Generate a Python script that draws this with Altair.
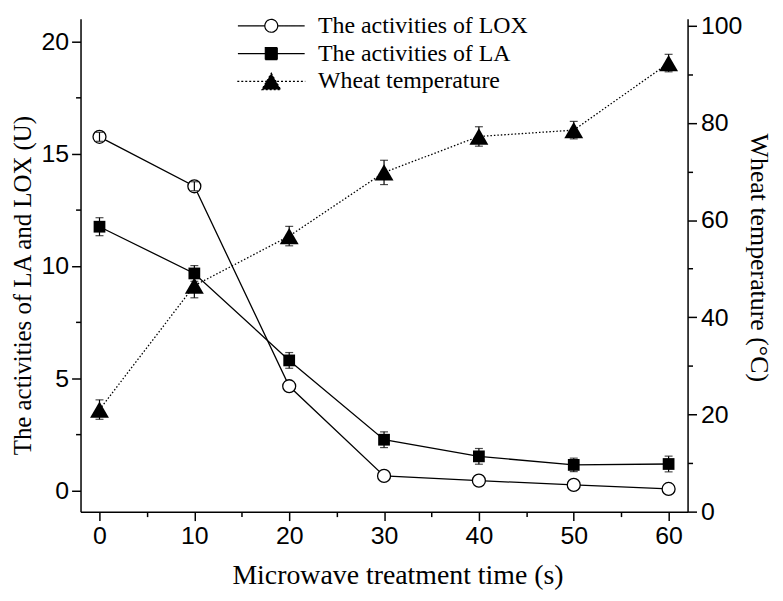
import altair as alt
import pandas as pd

# ---------------- data ----------------
time_s = [0, 10, 20, 30, 40, 50, 60]
lox_activity = [15.75, 13.55, 4.65, 0.66, 0.45, 0.26, 0.08]
lox_error = [0.2, 0.2, 0.0, 0.0, 0.0, 0.0, 0.0]
la_activity = [11.75, 9.67, 5.8, 2.27, 1.53, 1.15, 1.19]
la_error = [0.4, 0.35, 0.35, 0.35, 0.35, 0.3, 0.35]
wheat_temp = [21.0, 46.5, 56.7, 69.8, 77.2, 78.5, 92.3]
temp_error = [2.0, 2.5, 2.0, 2.5, 2.0, 1.8, 1.8]

series_names = ["The activities of LOX", "The activities of LA", "Wheat temperature"]
x_ticks = [0, 10, 20, 30, 40, 50, 60]
x_minor = [5, 15, 25, 35, 45, 55]
left_ticks = [0, 5, 10, 15, 20]
left_minor = [2.5, 7.5, 12.5, 17.5]
right_ticks = [0, 20, 40, 60, 80, 100]
right_minor = [10, 30, 50, 70, 90]

# ---------------- tables ----------------
def make_df(vals, errs, name):
    d = pd.DataFrame({"time": time_s, "value": vals, "err": errs, "series": name})
    d["lo"] = d["value"] - d["err"]
    d["hi"] = d["value"] + d["err"]
    return d

lox_df = make_df(lox_activity, lox_error, series_names[0])
la_df = make_df(la_activity, la_error, series_names[1])
temp_df = make_df(wheat_temp, temp_error, series_names[2])
left_df = pd.concat([lox_df, la_df], ignore_index=True)

def caps(d):
    d = d[d["err"] > 0]
    return pd.concat([d.assign(cap=d["lo"]), d.assign(cap=d["hi"])], ignore_index=True)

left_caps = caps(left_df)
temp_caps = caps(temp_df)
left_err_df = left_df[left_df["err"] > 0]
legend_df = pd.DataFrame({"series": series_names})

# ---------------- styles ----------------
SANS = "Liberation Sans"
SERIF = "Liberation Serif"
TICK_FS = 25

x_scale = alt.Scale(domain=[-2, 62], nice=False, zero=False)
left_scale = alt.Scale(domain=[-0.93, 21], nice=False, zero=False)
right_scale = alt.Scale(domain=[0, 101.4], nice=False, zero=False)

common_axis = dict(
    grid=False, domainColor="black", domainWidth=1.5, tickColor="black", tickWidth=1.5,
    labelColor="black", labelFont=SANS, labelFontSize=TICK_FS, labelFlush=False,
    labelOverlap=False, titleColor="black", titleFont=SERIF, titleFontWeight="normal",
)

x_axis = alt.Axis(
    orient="bottom", values=x_ticks, tickSize=9, labelPadding=3,
    title="Microwave treatment time (s)", titleFontSize=28, titleX=319, titleY=72,
    titleAlign="center", titleBaseline="alphabetic", **common_axis,
)
x_minor_axis = alt.Axis(
    orient="bottom", values=x_minor, tickSize=5, labels=False, domain=False, title=None,
    grid=False, tickColor="black", tickWidth=1.5,
)
left_axis = alt.Axis(
    orient="left", values=left_ticks, tickSize=9, labelPadding=3,
    title="The activities of LA and LOX (U)", titleFontSize=25, titleAngle=270,
    titleX=-50, titleY=268, titleAlign="center", titleBaseline="alphabetic", **common_axis,
)
left_minor_axis = alt.Axis(
    orient="left", values=left_minor, tickSize=5, labels=False, domain=False, title=None,
    grid=False, tickColor="black", tickWidth=1.5,
)
right_axis = alt.Axis(
    orient="right", values=right_ticks, tickSize=9, labelPadding=4,
    title="Wheat temperature (°C)", titleFontSize=26, titleAngle=90,
    titleX=63, titleY=240, titleAlign="center", titleBaseline="alphabetic", **common_axis,
)
right_minor_axis = alt.Axis(
    orient="right", values=right_minor, tickSize=5, labels=False, domain=False, title=None,
    grid=False, tickColor="black", tickWidth=1.5,
)

X = alt.X("time:Q", scale=x_scale, axis=x_axis)
X_noaxis = alt.X("time:Q", scale=x_scale, axis=None)

def YL(field):
    return alt.Y(f"{field}:Q", scale=left_scale, axis=left_axis)

def YR(field):
    return alt.Y(f"{field}:Q", scale=right_scale, axis=right_axis)

# ---------------- left (LA / LOX) ----------------
left_lines = alt.Chart(left_df).mark_line(color="black", strokeWidth=1.3).encode(
    x=X, y=YL("value"), detail="series:N")
la_points = alt.Chart(la_df).mark_point(
    shape="square", size=140, filled=True, color="black", opacity=1).encode(x=X, y=YL("value"))
lox_points = alt.Chart(lox_df).mark_point(
    shape="circle", size=170, filled=True, fill="white", stroke="black", strokeWidth=1.3,
    opacity=1).encode(x=X, y=YL("value"))
left_rules = alt.Chart(left_err_df).mark_rule(color="black", strokeWidth=1.2).encode(
    x=X, y=YL("lo"), y2="hi")
left_capmarks = alt.Chart(left_caps).mark_tick(
    orient="horizontal", color="black", size=8, thickness=1.2).encode(x=X, y=YL("cap"))
left_group = alt.layer(left_lines, la_points, lox_points, left_rules, left_capmarks)

# ---------------- right (temperature) ----------------
temp_line = alt.Chart(temp_df).mark_line(
    color="black", strokeWidth=1.3, strokeDash=[1.5, 2]).encode(x=X_noaxis, y=YR("value"))
temp_points = alt.Chart(temp_df).mark_point(
    shape="triangle-up", size=361, filled=True, color="black", opacity=1).encode(
    x=X_noaxis, y=YR("value"))
temp_rules = alt.Chart(temp_df).mark_rule(color="black", strokeWidth=1.2).encode(
    x=X_noaxis, y=YR("lo"), y2="hi")
temp_capmarks = alt.Chart(temp_caps).mark_tick(
    orient="horizontal", color="black", size=8, thickness=1.2).encode(x=X_noaxis, y=YR("cap"))
right_group = alt.layer(temp_line, temp_points, temp_rules, temp_capmarks)

# ---------------- minor ticks ----------------
minor_x = alt.Chart(left_df).mark_point(opacity=0).encode(
    x=alt.X("time:Q", scale=x_scale, axis=x_minor_axis))
minor_left = alt.Chart(left_df).mark_point(opacity=0).encode(
    y=alt.Y("value:Q", scale=left_scale, axis=left_minor_axis))
minor_right = alt.Chart(temp_df).mark_point(opacity=0).encode(
    y=alt.Y("value:Q", scale=right_scale, axis=right_minor_axis))

# ---------------- legend ----------------
legend_paths = [
    "M-5.6,0L-1.08,0M1.08,0L5.6,0M-1.08,0A1.08,1.08,0,1,1,1.08,0A1.08,1.08,0,1,1,-1.08,0Z",
    "M-5.6,0L5.6,0M-1,-1L1,-1L1,1L-1,1Z",
    "M-5.7,0L5.7,0M0,-1.37L1.58,1.37L-1.58,1.37Z",
]
leg = alt.Legend(
    orient="none", legendX=180, legendY=-5, title=None, padding=0,
    labelFont=SERIF, labelFontSize=24, labelColor="black", labelOffset=35, labelLimit=500,
    symbolSize=144, symbolStrokeColor="black", symbolStrokeWidth=1.2, symbolOpacity=1,
    rowPadding=4,
)
legend_layer = alt.Chart(legend_df).mark_point(opacity=0, filled=True).encode(
    shape=alt.Shape("series:N", scale=alt.Scale(domain=series_names, range=legend_paths), legend=leg),
    fill=alt.Fill("series:N", scale=alt.Scale(domain=series_names, range=["white", "black", "black"]), legend=leg),
    stroke=alt.Stroke("series:N", scale=alt.Scale(domain=series_names, range=["black", "black", "black"]), legend=leg),
    strokeDash=alt.StrokeDash("series:N", scale=alt.Scale(domain=series_names, range=[[1, 0], [1, 0], [2, 2]]), legend=leg),
)

chart = alt.layer(
    left_group, right_group, minor_x, minor_left, minor_right, legend_layer
).resolve_scale(
    y="independent"
).resolve_axis(
    x="independent", y="independent"
).properties(
    width=611, height=496,
    autosize=alt.AutoSizeParams(type="none"),
    padding={"left": 73, "top": 9, "right": 88, "bottom": 84},
    background="white",
).configure_view(stroke=None)

chart.save("out.html", embed_options={"renderer": "svg", "actions": False})
